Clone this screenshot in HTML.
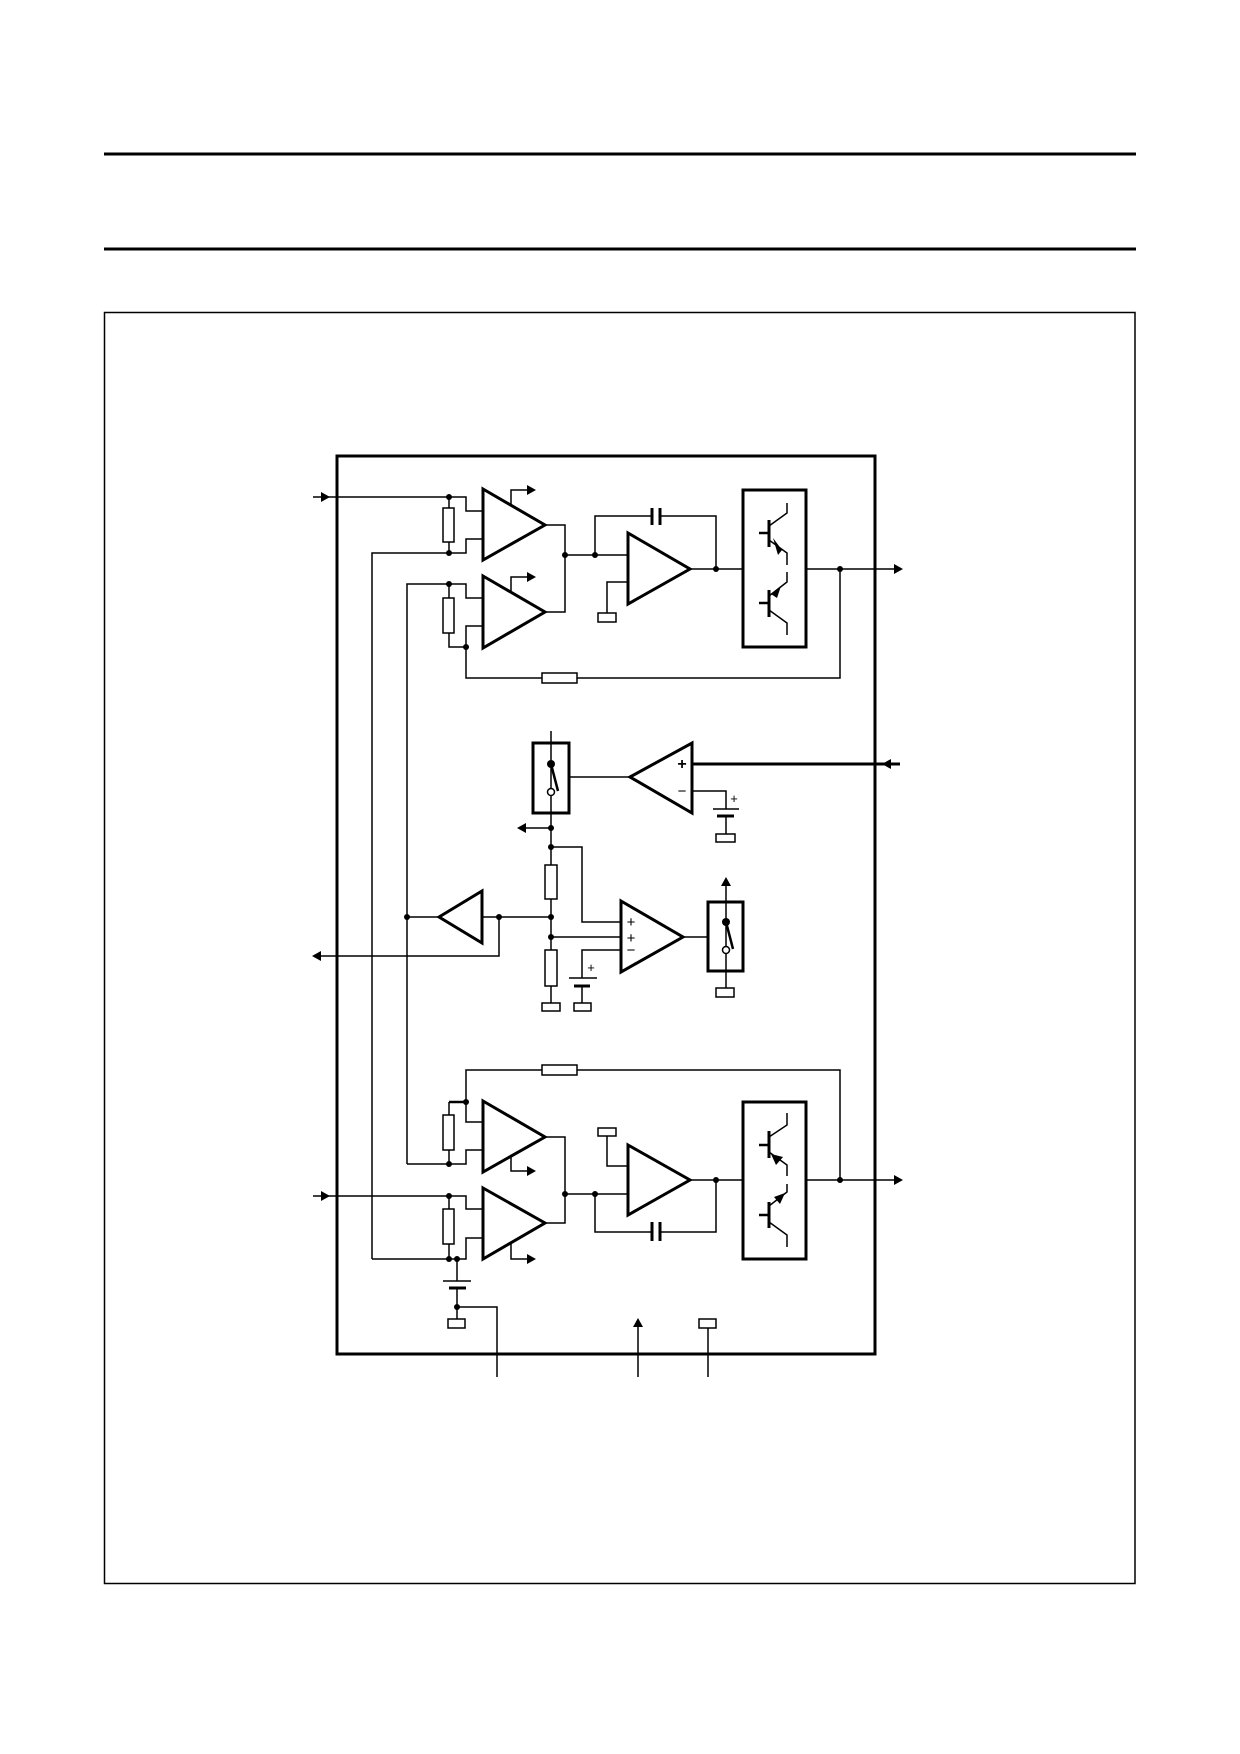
<!DOCTYPE html>
<html><head><meta charset="utf-8"><style>html,body{margin:0;padding:0;background:#fff}svg{display:block}</style></head>
<body>
<svg width="1240" height="1754" viewBox="0 0 1240 1754" xmlns="http://www.w3.org/2000/svg" fill="none" stroke="#000" stroke-width="1.5">
<line x1="104" y1="154" x2="1136" y2="154" stroke-width="3"/>
<line x1="104" y1="249" x2="1136" y2="249" stroke-width="3"/>
<rect x="104.5" y="312.5" width="1030.5" height="1271" stroke-width="1.5"/>
<rect x="337" y="456" width="538" height="898" stroke-width="3"/>

<g id="top">
<polyline points="313,497 449,497 466,497 466,511 483,511"/>
<polygon points="321,492 330,497 321,502" fill="#000" stroke="none"/>
<rect x="443" y="508" width="11" height="34"/>
<line x1="449" y1="497" x2="449" y2="508"/><line x1="449" y1="542" x2="449" y2="553"/>
<polyline points="372,1259 372,553 466,553 466,539 483,539"/>
<polygon points="483,489 545,525 483,560" stroke-width="3"/>
<polyline points="511,505 511,490 527,490"/><polygon points="527,485 536,490 527,495" fill="#000" stroke="none"/>
<polyline points="545,525 565,525 565,612 545,612"/>
<polyline points="407,1164 407,584 466,584 466,598 483,598"/>
<rect x="443" y="598" width="11" height="35"/>
<line x1="449" y1="584" x2="449" y2="598"/><polyline points="449,633 449,647 466,647 466,626 483,626"/>
<polygon points="483,576 545,612 483,648" stroke-width="3"/>
<polyline points="511,592 511,577 527,577"/><polygon points="527,572 536,577 527,582" fill="#000" stroke="none"/>
<polyline points="466,647 466,678 542,678"/><rect x="542" y="673" width="35" height="10"/><polyline points="577,678 840,678 840,569"/>
<line x1="565" y1="555" x2="628" y2="555"/>
<polyline points="595,555 595,516 652,516"/><polyline points="660,516 716,516 716,569"/>
<line x1="652" y1="508" x2="652" y2="525" stroke-width="3"/><line x1="660" y1="508" x2="660" y2="525" stroke-width="3"/>
<polygon points="628,533 690,569 628,604" stroke-width="3"/>
<polyline points="628,582 607,582 607,613"/><rect x="598" y="613" width="18" height="9"/>
<line x1="690" y1="569" x2="743" y2="569"/>
<rect x="743" y="490" width="63" height="157" stroke-width="3"/>
<line x1="806" y1="569" x2="894" y2="569"/><polygon points="894,564 903,569 894,574" fill="#000" stroke="none"/>
<line x1="769" y1="520" x2="769" y2="547" stroke-width="3"/><line x1="759" y1="533" x2="769" y2="533" stroke-width="2.5"/>
<polyline points="769,526 787,513 787,503"/><polyline points="769,540 787,553 787,565"/>
<polygon points="782,550 773,538 778,555" fill="#000" stroke="none"/>
<line x1="769" y1="590" x2="769" y2="617" stroke-width="3"/><line x1="759" y1="603" x2="769" y2="603" stroke-width="2.5"/>
<polyline points="787,572 787,582 769,596"/><polyline points="769,610 787,623 787,635"/>
<polygon points="771,594 781,586 777,598" fill="#000" stroke="none"/>
</g>

<g id="mid">
<line x1="551" y1="731" x2="551" y2="917"/>
<rect x="533" y="743" width="36" height="70" stroke-width="3"/>
<line x1="551" y1="764" x2="558" y2="791" stroke-width="2.5"/>
<circle cx="551" cy="792" r="3.5" fill="#fff"/>
<line x1="569" y1="777" x2="630" y2="777"/>
<polygon points="630,777 692,743 692,813" stroke-width="3"/>
<text x="682" y="769" font-family="Liberation Sans" font-size="16" font-weight="bold" text-anchor="middle" fill="#000" stroke="none">+</text>
<text x="682" y="796" font-family="Liberation Sans" font-size="15" text-anchor="middle" fill="#000" stroke="none">−</text>
<line x1="692" y1="764" x2="900" y2="764" stroke-width="3"/>
<polygon points="882,764 891,759 891,769" fill="#000" stroke="none"/>
<polyline points="692,791 726,791 726,809"/>
<line x1="713" y1="809" x2="739" y2="809"/><line x1="717" y1="816" x2="734" y2="816" stroke-width="3"/>
<text x="734" y="803" font-family="Liberation Sans" font-size="13" text-anchor="middle" fill="#000" stroke="none">+</text>
<line x1="726" y1="816" x2="726" y2="834"/><rect x="716" y="834" width="19" height="8"/>
<line x1="526" y1="828" x2="551" y2="828"/><polygon points="517,828 526,823 526,833" fill="#000" stroke="none"/>
<polyline points="551,847 582,847 582,922 621,922"/>
<rect x="545" y="865" width="12" height="34" fill="#fff"/>
<line x1="407" y1="917" x2="439" y2="917"/>
<polygon points="439,917 482,891 482,943" stroke-width="3"/>
<line x1="482" y1="917" x2="551" y2="917"/>
<polyline points="499,917 499,956 321,956"/><polygon points="312,956 321,951 321,961" fill="#000" stroke="none"/>
<polyline points="551,917 551,950"/><rect x="545" y="950" width="12" height="36"/>
<line x1="551" y1="986" x2="551" y2="1003"/><rect x="542" y="1003" width="18" height="8"/>
<line x1="551" y1="937" x2="621" y2="937"/>
<polyline points="621,950 582,950 582,978"/>
<line x1="569" y1="978" x2="597" y2="978"/><line x1="574" y1="986" x2="590" y2="986" stroke-width="3"/>
<text x="591" y="972" font-family="Liberation Sans" font-size="13" text-anchor="middle" fill="#000" stroke="none">+</text>
<line x1="582" y1="986" x2="582" y2="1003"/><rect x="574" y="1003" width="17" height="8"/>
<polygon points="621,901 683,937 621,972" stroke-width="3"/>
<text x="631" y="927" font-family="Liberation Sans" font-size="15" text-anchor="middle" fill="#000" stroke="none">+</text>
<text x="631" y="943" font-family="Liberation Sans" font-size="15" text-anchor="middle" fill="#000" stroke="none">+</text>
<text x="631" y="955" font-family="Liberation Sans" font-size="15" text-anchor="middle" fill="#000" stroke="none">−</text>
<line x1="683" y1="937" x2="708" y2="937"/>
<line x1="726" y1="885" x2="726" y2="988"/><polygon points="726,877 721,886 731,886" fill="#000" stroke="none"/>
<rect x="708" y="902" width="35" height="69" stroke-width="3"/>
<line x1="726" y1="922" x2="733" y2="949" stroke-width="2.5"/>
<circle cx="726" cy="950" r="3.5" fill="#fff"/>
<rect x="716" y="988" width="18" height="9"/>
</g>

<g id="bot">
<polyline points="466,1102 466,1070 542,1070"/><rect x="542" y="1065" width="35" height="10"/><polyline points="577,1070 840,1070 840,1180"/>
<line x1="449" y1="1102" x2="466" y2="1102" stroke-width="2.5"/>
<polyline points="466,1102 466,1122 483,1122"/>
<line x1="449" y1="1102" x2="449" y2="1115"/><rect x="443" y="1115" width="11" height="35"/><line x1="449" y1="1150" x2="449" y2="1164"/>
<polyline points="407,1164 466,1164 466,1150 483,1150"/>
<polygon points="483,1101 545,1137 483,1172" stroke-width="3"/>
<polyline points="511,1155 511,1171 527,1171"/><polygon points="527,1166 536,1171 527,1176" fill="#000" stroke="none"/>
<polyline points="545,1137 565,1137 565,1223 545,1223"/>
<polyline points="313,1196 466,1196 466,1209 483,1209"/>
<polygon points="321,1191 330,1196 321,1201" fill="#000" stroke="none"/>
<line x1="449" y1="1196" x2="449" y2="1209"/><rect x="443" y="1209" width="11" height="35"/><line x1="449" y1="1244" x2="449" y2="1259"/>
<polyline points="372,1259 466,1259 466,1238 483,1238"/>
<polygon points="483,1188 545,1223 483,1259" stroke-width="3"/>
<polyline points="511,1243 511,1259 527,1259"/><polygon points="527,1254 536,1259 527,1264" fill="#000" stroke="none"/>
<line x1="565" y1="1194" x2="628" y2="1194"/>
<polyline points="595,1194 595,1232 652,1232"/><polyline points="660,1232 716,1232 716,1180"/>
<line x1="652" y1="1222" x2="652" y2="1241" stroke-width="3"/><line x1="660" y1="1222" x2="660" y2="1241" stroke-width="3"/>
<polygon points="628,1145 690,1180 628,1215" stroke-width="3"/>
<polyline points="628,1166 607,1166 607,1136"/><rect x="598" y="1128" width="18" height="8"/>
<line x1="690" y1="1180" x2="743" y2="1180"/>
<rect x="743" y="1102" width="63" height="157" stroke-width="3"/>
<line x1="806" y1="1180" x2="894" y2="1180"/><polygon points="894,1175 903,1180 894,1185" fill="#000" stroke="none"/>
<line x1="769" y1="1131" x2="769" y2="1158" stroke-width="3"/><line x1="759" y1="1145" x2="769" y2="1145" stroke-width="2.5"/>
<polyline points="769,1137 787,1125 787,1113"/><polyline points="769,1152 787,1165 787,1176"/>
<polygon points="771,1154 783,1157 776,1165" fill="#000" stroke="none"/>
<line x1="769" y1="1202" x2="769" y2="1228" stroke-width="3"/><line x1="759" y1="1215" x2="769" y2="1215" stroke-width="2.5"/>
<polyline points="787,1184 787,1192 769,1206"/><polyline points="769,1222 787,1235 787,1247"/>
<polygon points="785,1193 774,1197 780,1204" fill="#000" stroke="none"/>
<line x1="457" y1="1259" x2="457" y2="1281"/>
<line x1="443" y1="1281" x2="471" y2="1281"/><line x1="449" y1="1288" x2="466" y2="1288" stroke-width="3"/>
<line x1="457" y1="1288" x2="457" y2="1319"/><rect x="448" y="1319" width="17" height="9"/>
<polyline points="457,1307 497,1307 497,1377"/>
<line x1="638" y1="1326" x2="638" y2="1377"/><polygon points="638,1318 633,1327 643,1327" fill="#000" stroke="none"/>
<rect x="699" y="1319" width="17" height="9"/><line x1="708" y1="1328" x2="708" y2="1377"/>
</g>

<g fill="#000" stroke="none">
<circle cx="449" cy="497" r="3"/><circle cx="449" cy="553" r="3"/><circle cx="449" cy="584" r="3"/><circle cx="466" cy="647" r="3"/>
<circle cx="565" cy="555" r="3"/><circle cx="595" cy="555" r="3"/><circle cx="716" cy="569" r="3"/><circle cx="840" cy="569" r="3"/>
<circle cx="551" cy="764" r="4"/><circle cx="551" cy="828" r="3"/><circle cx="551" cy="847" r="3"/><circle cx="551" cy="917" r="3"/>
<circle cx="551" cy="937" r="3"/><circle cx="407" cy="917" r="3"/><circle cx="499" cy="917" r="3"/><circle cx="726" cy="922" r="4"/>
<circle cx="466" cy="1102" r="3"/><circle cx="449" cy="1164" r="3"/><circle cx="449" cy="1196" r="3"/><circle cx="449" cy="1259" r="3"/><circle cx="457" cy="1259" r="3"/>
<circle cx="565" cy="1194" r="3"/><circle cx="595" cy="1194" r="3"/><circle cx="716" cy="1180" r="3"/><circle cx="840" cy="1180" r="3"/>
<circle cx="457" cy="1307" r="3"/>
</g>
</svg>
</body></html>
